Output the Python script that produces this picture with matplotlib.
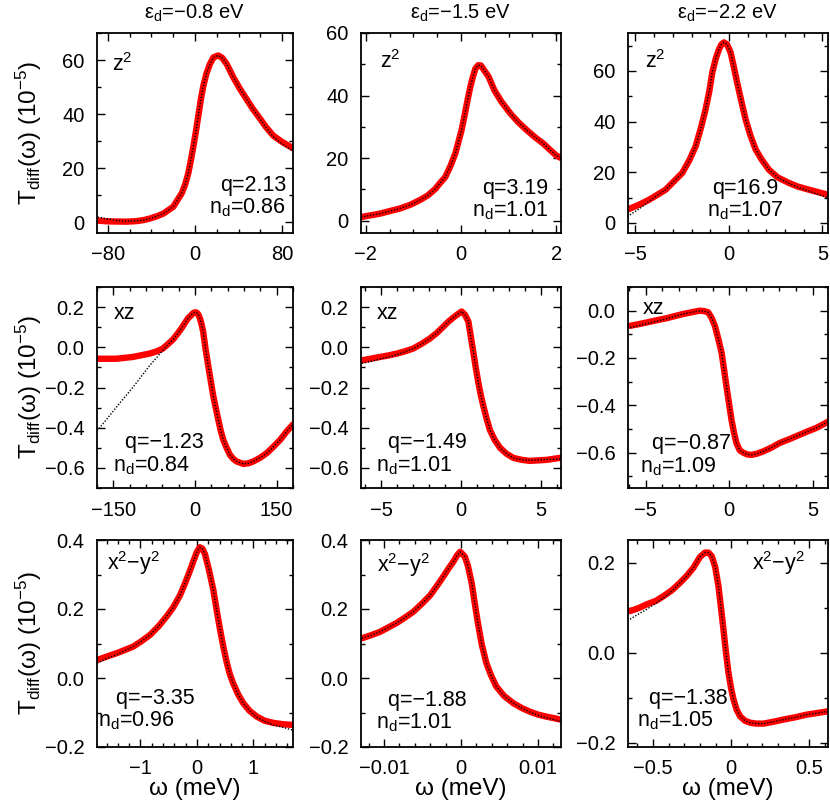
import matplotlib
matplotlib.use("Agg")
import matplotlib.pyplot as plt
from matplotlib.ticker import MultipleLocator

plt.rcParams["font.family"] = ["Liberation Sans", "DejaVu Sans"]
plt.rcParams["mathtext.default"] = "regular"
plt.rcParams["mathtext.fontset"] = "custom"
plt.rcParams["mathtext.rm"] = "Liberation Sans"

# ---- data: omega (meV), T_diff (1e-5); red = data, dotted = fit ----
# row 0: z^2
X00 = [-89.4, -80, -72, -62, -53.6, -47, -41, -35, -29, -20, -12.2, -9, -6.1, -4, -1.5, 1, 3.1, 5.4, 7.7, 10.5,
       13.8, 17, 21.4, 25, 29, 35.2, 41, 47.4, 53, 59.7, 65, 71.9, 80, 90.3]
RED00 = [0.6, 0.3, 0.25, 0.2, 0.4, 0.8, 1.4, 2.2, 3.2, 5.7, 10.7, 14, 18.2, 22.5, 28, 34, 39.5, 45.5, 50.5, 55,
         58.6, 61, 61.7, 60.8, 58.6, 53.6, 49.5, 45.5, 42, 38.3, 35.3, 32, 29.7, 27.3]
FIT00 = [1.9, 1.2, 0.6, 0.4, 0.5, 0.8, 1.4, 2.2, 3.2, 5.7, 10.7, 14, 18.2, 22.5, 28, 34, 39.5, 45.5, 50.5, 55,
         58.6, 61, 61.7, 60.8, 58.6, 53.6, 49.5, 45.5, 42, 38.2, 35.1, 31.6, 29.0, 26.2]

X01 = [-2.1, -1.7, -1.5, -1.29, -1.07, -0.88, -0.7, -0.54, -0.44, -0.33, -0.22, -0.12, 0.01, 0.08, 0.15, 0.20,
       0.25, 0.30, 0.36, 0.42, 0.49, 0.58, 0.70, 0.85, 1.04, 1.2, 1.39, 1.55, 1.73, 1.87, 2.0, 2.1]
RED01 = [1.1, 2.2, 3.0, 3.8, 5.0, 6.4, 8.0, 10.1, 12.0, 13.9, 17.5, 21.4, 28.8, 34, 39.5, 43, 46, 48.5, 49.7,
         49.6, 48, 46, 41.7, 38, 34.2, 31.5, 28.8, 26.7, 24.6, 22.6, 20.8, 20]
FIT01 = [1.1, 2.2, 3.0, 3.8, 5.0, 6.4, 8.0, 10.1, 12.0, 13.9, 17.5, 21.4, 28.8, 34, 39.5, 43, 46, 48.5, 49.7,
         49.6, 48, 46, 41.7, 38, 34.2, 31.5, 28.8, 26.7, 24.6, 22.6, 20.8, 20]

X02 = [-5.44, -4.8, -4.28, -3.85, -3.39, -3.0, -2.5, -2.1, -1.78, -1.5, -1.25, -1.05, -0.89, -0.7, -0.53, -0.4,
       -0.27, -0.1, 0.09, 0.25, 0.44, 0.65, 0.89, 1.15, 1.43, 1.75, 2.14, 2.6, 3.2, 3.7, 4.28, 5.3]
RED02 = [5.2, 7.2, 9.1, 11, 13.1, 16, 19.7, 25, 30.3, 37.5, 44.8, 52, 59.4, 65, 68.6, 70.5, 71.3, 70.5, 67.3, 62,
         55.4, 48.5, 40.9, 34.5, 29, 25, 21, 18, 15.8, 14.3, 13.1, 11.1]
FIT02 = [2.5, 5.5, 8.5, 10.8, 13.1, 16, 19.7, 25, 30.3, 37.5, 44.8, 52, 59.4, 65, 68.6, 70.5, 71.3, 70.5, 67.3, 62,
         55.4, 48.5, 40.9, 34.5, 29, 25, 21, 18, 15.6, 14.0, 12.6, 9.8]

# row 1: xz
X10 = [-180, -145, -114, -83, -70, -59, -50, -40, -32, -25, -18.8, -12.6, -7, -3.4, 0, 2.7, 5.8, 8.9, 12, 15,
       19.5, 24.2, 28.8, 33.4, 38, 42.7, 47.3, 51.9, 58, 64.2, 70.3, 76.5, 88.8, 98, 107, 119.5, 132, 144, 156.5, 168, 180]
RED10 = [-0.057, -0.057, -0.048, -0.031, -0.02, -0.006, 0.015, 0.04, 0.068, 0.094, 0.12, 0.145, 0.16, 0.17, 0.174,
         0.173, 0.165, 0.145, 0.115, 0.078, -0.01, -0.09, -0.165, -0.24, -0.30, -0.36, -0.415, -0.46, -0.50, -0.535,
         -0.555, -0.568, -0.58, -0.577, -0.568, -0.55, -0.526, -0.495, -0.46, -0.42, -0.384]
FIT10 = [-0.417, -0.30, -0.199, -0.09, -0.05, -0.015, 0.012, 0.04, 0.068, 0.094, 0.12, 0.145, 0.16, 0.17, 0.174,
         0.173, 0.165, 0.145, 0.115, 0.078, -0.01, -0.09, -0.165, -0.24, -0.30, -0.36, -0.415, -0.46, -0.50, -0.535,
         -0.555, -0.568, -0.58, -0.577, -0.568, -0.55, -0.526, -0.495, -0.46, -0.42, -0.384]

X11 = [-6.2, -5.6, -5.06, -4.5, -4.0, -3.5, -2.98, -2.45, -1.94, -1.5, -1.1, -0.78, -0.48, -0.2, 0.04, 0.25, 0.46,
       0.62, 0.77, 0.92, 1.08, 1.23, 1.39, 1.6, 1.8, 2.1, 2.44, 2.85, 3.27, 3.8, 4.3, 5.35, 6.2]
RED11 = [-0.065, -0.056, -0.048, -0.04, -0.031, -0.02, -0.006, 0.018, 0.044, 0.072, 0.103, 0.128, 0.148, 0.165,
         0.178, 0.162, 0.128, 0.05, -0.023, -0.10, -0.174, -0.235, -0.29, -0.355, -0.41, -0.46, -0.50, -0.53, -0.55,
         -0.56, -0.565, -0.56, -0.55]
FIT11 = [-0.08, -0.07, -0.058, -0.047, -0.036, -0.022, -0.006, 0.018, 0.044, 0.072, 0.103, 0.128, 0.148, 0.165,
         0.178, 0.162, 0.128, 0.05, -0.023, -0.10, -0.174, -0.235, -0.29, -0.355, -0.41, -0.46, -0.50, -0.53, -0.55,
         -0.56, -0.562, -0.558, -0.556]

X12 = [-5.92, -5.4, -4.93, -4.3, -3.74, -3.25, -2.75, -2.25, -1.76, -1.5, -1.26, -1.06, -0.86, -0.66, -0.46, -0.31,
       -0.17, -0.02, 0.13, 0.28, 0.43, 0.62, 0.82, 1.07, 1.32, 1.65, 2.0, 2.5, 3.0, 3.6, 4.2, 4.7, 5.2, 5.95]
RED12 = [-0.064, -0.057, -0.050, -0.04, -0.032, -0.023, -0.014, -0.007, 0.0, -0.002, -0.007, -0.03, -0.064, -0.118,
         -0.177, -0.25, -0.319, -0.39, -0.46, -0.515, -0.56, -0.59, -0.60, -0.608, -0.61, -0.605, -0.596, -0.58,
         -0.56, -0.543, -0.525, -0.51, -0.496, -0.468]
FIT12 = [-0.072, -0.063, -0.055, -0.044, -0.034, -0.024, -0.014, -0.007, 0.0, -0.002, -0.007, -0.03, -0.064, -0.118,
         -0.177, -0.25, -0.319, -0.39, -0.46, -0.515, -0.56, -0.59, -0.60, -0.608, -0.61, -0.605, -0.596, -0.58,
         -0.56, -0.543, -0.525, -0.51, -0.496, -0.468]

# row 2: x^2-y^2
X20 = [-1.77, -1.6, -1.42, -1.28, -1.13, -0.98, -0.83, -0.68, -0.54, -0.42, -0.30, -0.21, -0.12, -0.06, 0.0, 0.05,
       0.095, 0.14, 0.21, 0.29, 0.35, 0.41, 0.47, 0.53, 0.58, 0.64, 0.73, 0.82, 0.93, 1.06, 1.2, 1.35, 1.52, 1.7]
RED20 = [0.052, 0.062, 0.072, 0.081, 0.091, 0.107, 0.125, 0.15, 0.178, 0.205, 0.24, 0.275, 0.313, 0.34, 0.366,
         0.379, 0.375, 0.36, 0.315, 0.255, 0.195, 0.139, 0.088, 0.043, 0.012, -0.015, -0.048, -0.073, -0.095,
         -0.112, -0.124, -0.13, -0.134, -0.136]
FIT20 = [0.043, 0.056, 0.068, 0.079, 0.091, 0.107, 0.125, 0.15, 0.178, 0.205, 0.24, 0.275, 0.313, 0.34, 0.366,
         0.379, 0.375, 0.36, 0.315, 0.255, 0.195, 0.139, 0.088, 0.043, 0.012, -0.015, -0.048, -0.073, -0.095,
         -0.114, -0.126, -0.136, -0.143, -0.151]

X21 = [-0.0129, -0.0117, -0.0105, -0.0095, -0.0084, -0.0073, -0.0062, -0.0051, -0.0040, -0.0031, -0.0023, -0.0016,
       -0.0010, -0.0005, -0.0001, 0.0005, 0.0009, 0.0014, 0.0018, 0.0022, 0.0027, 0.0033, 0.0039, 0.0046, 0.0056,
       0.0068, 0.0079, 0.0090, 0.0100, 0.0111, 0.0120, 0.0128]
RED21 = [0.115, 0.124, 0.134, 0.146, 0.159, 0.175, 0.192, 0.215, 0.24, 0.268, 0.294, 0.318, 0.337, 0.356, 0.366,
         0.352, 0.325, 0.274, 0.215, 0.159, 0.097, 0.043, 0.008, -0.025, -0.052, -0.073, -0.087, -0.098, -0.106,
         -0.112, -0.116, -0.120]
FIT21 = [0.115, 0.124, 0.134, 0.146, 0.159, 0.175, 0.192, 0.215, 0.24, 0.268, 0.294, 0.318, 0.337, 0.356, 0.366,
         0.352, 0.325, 0.274, 0.215, 0.159, 0.097, 0.043, 0.008, -0.025, -0.052, -0.073, -0.087, -0.099, -0.108,
         -0.115, -0.120, -0.125]

X22 = [-0.647, -0.59, -0.54, -0.48, -0.434, -0.38, -0.327, -0.285, -0.242, -0.2, -0.167, -0.145, -0.124, -0.102,
       -0.081, -0.065, -0.049, -0.033, -0.017, 0.0, 0.015, 0.035, 0.058, 0.09, 0.122, 0.16, 0.207, 0.27, 0.335,
       0.41, 0.485, 0.56, 0.63]
RED22 = [0.092, 0.099, 0.107, 0.115, 0.125, 0.138, 0.155, 0.17, 0.188, 0.212, 0.222, 0.222, 0.214, 0.19, 0.147,
         0.1, 0.051, 0.0, -0.045, -0.08, -0.104, -0.127, -0.142, -0.152, -0.156, -0.158, -0.158, -0.154, -0.149,
         -0.144, -0.138, -0.134, -0.130]
FIT22 = [0.074, 0.086, 0.096, 0.11, 0.121, 0.136, 0.155, 0.17, 0.188, 0.212, 0.222, 0.222, 0.214, 0.19, 0.147,
         0.1, 0.051, 0.0, -0.045, -0.08, -0.104, -0.127, -0.142, -0.152, -0.156, -0.158, -0.158, -0.154, -0.149,
         -0.144, -0.138, -0.134, -0.130]

XS = [[X00, X01, X02], [X10, X11, X12], [X20, X21, X22]]
REDS = [[RED00, RED01, RED02], [RED10, RED11, RED12], [RED20, RED21, RED22]]
FITS = [[FIT00, FIT01, FIT02], [FIT10, FIT11, FIT12], [FIT20, FIT21, FIT22]]

TITLES = ["ε$_d$=−0.8 eV", "ε$_d$=−1.5 eV", "ε$_d$=−2.2 eV"]
ORBITALS = ["z$^2$", "xz", "x$^2$−y$^2$"]
Q = [["2.13", "3.19", "16.9"], ["−1.23", "−1.49", "−0.87"], ["−3.35", "−1.88", "−1.38"]]
ND = [["0.86", "1.01", "1.07"], ["0.84", "1.01", "1.09"], ["0.96", "1.01", "1.05"]]
Q_INDENT = [["", "", ""], ["  ", "  ", "  "], ["   ", "  ", "  "]]

XLIM = [[(-90, 90), (-2.1, 2.1), (-5.4, 5.3)],
        [(-180, 180), (-6.25, 6.25), (-6.05, 5.9)],
        [(-1.77, 1.7), (-0.013, 0.013), (-0.66, 0.62)]]
YLIM = [[(-4, 70), (-4, 60), (-4, 75)],
        [(-0.7, 0.3), (-0.7, 0.3), (-0.75, 0.1)],
        [(-0.2, 0.4), (-0.2, 0.4), (-0.21, 0.25)]]
XT = [[[-80, 0, 80], [-2, 0, 2], [-5, 0, 5]],
      [[-150, 0, 150], [-5, 0, 5], [-5, 0, 5]],
      [[-1, 0, 1], [-0.01, 0, 0.01], [-0.5, 0, 0.5]]]
XTL = [[["−80", "0", "80"], ["−2", "0", "2"], ["−5", "0", "5"]],
       [["−150", "0", "150"], ["−5", "0", "5"], ["−5", "0", "5"]],
       [["−1", "0", "1"], ["−0.01", "0", "0.01"], ["−0.5", "0", "0.5"]]]
XMINOR = [[20, 0.5, 1], [30, 1, 1], [0.2, 0.002, 0.1]]
YT = [[[0, 20, 40, 60]] * 3,
      [[-0.6, -0.4, -0.2, 0.0, 0.2], [-0.6, -0.4, -0.2, 0.0, 0.2], [-0.6, -0.4, -0.2, 0.0]],
      [[-0.2, 0.0, 0.2, 0.4], [-0.2, 0.0, 0.2, 0.4], [-0.2, 0.0, 0.2]]]
YMINOR = [[10, 10, 10], [0.1, 0.1, 0.1], [0.1, 0.1, 0.1]]

# label placement in axes coords (text baselines)
ORB_POS = [[(0.077, 0.81, "left"), (0.095, 0.823, "left"), (0.085, 0.823, "left")],
           [(0.083, 0.84, "left"), (0.078, 0.84, "left"), (0.075, 0.866, "left")],
           [(0.05, 0.855, "left"), (0.08, 0.847, "left"), (0.885, 0.855, "right")]]
# (x, last-line baseline y, ha) of the q / n_d block
QN_POS = [[(0.964, 0.098, "right"), (0.935, 0.082, "right"), (0.585, 0.082, "center")],
          [(0.08, 0.085, "left"), (0.075, 0.085, "left"), (0.06, 0.078, "left")],
          [(0.005, 0.098, "left"), (0.075, 0.09, "left"), (0.045, 0.098, "left")]]

W, H = 830, 807
COL_L = [97, 361, 628]
COL_W = [196, 200, 200]
ROW_T = [33, 287, 540]
ROW_H = [200, 201, 207]
FS_TICK = 14.5
FS_ANN = 15.5
FS_LAB = 17.5

fig = plt.figure(figsize=(W / 100, H / 100), dpi=100)
for r in range(3):
    for c in range(3):
        ax = fig.add_axes([COL_L[c] / W, 1 - (ROW_T[r] + ROW_H[r]) / H, COL_W[c] / W, ROW_H[r] / H])
        ax.plot(XS[r][c], REDS[r][c], color="#ff0000", lw=4.6, solid_joinstyle="round",
                solid_capstyle="round", zorder=2)
        ax.plot(XS[r][c], FITS[r][c], color="black", lw=1.0, ls=(0, (1, 1.2)), zorder=3)
        ax.set_xlim(*XLIM[r][c]); ax.set_ylim(*YLIM[r][c])
        ax.set_xticks(XT[r][c]); ax.set_xticklabels(XTL[r][c])
        ax.set_yticks(YT[r][c])
        if r == 0:
            ax.set_yticklabels([f"{v:d}" for v in YT[r][c]])
        else:
            ax.set_yticklabels([f"{v:.1f}".replace("-", "−") for v in YT[r][c]])
        ax.xaxis.set_minor_locator(MultipleLocator(XMINOR[r][c]))
        ax.yaxis.set_minor_locator(MultipleLocator(YMINOR[r][c]))
        ax.tick_params(which="both", direction="in", top=True, right=True, labelsize=FS_TICK, width=1.0)
        ax.tick_params(which="major", length=6, pad=9)
        ax.tick_params(which="minor", length=3)
        for s in ax.spines.values():
            s.set_linewidth(1.3)
        ox, oy, oha = ORB_POS[r][c]
        ax.text(ox, oy, ORBITALS[r], transform=ax.transAxes, ha=oha, va="baseline", fontsize=FS_ANN)
        qx, qy, qha = QN_POS[r][c]
        ax.text(qx, qy, Q_INDENT[r][c] + "q=" + Q[r][c] + "\nn$_d$=" + ND[r][c], transform=ax.transAxes,
                ha=qha, multialignment=qha, va="baseline", fontsize=FS_ANN, linespacing=1.05)
        if r == 0:
            ax.text(0.5, 1.10, TITLES[c], transform=ax.transAxes, ha="center", va="center", fontsize=14.5)
        if c == 0:
            ax.set_ylabel("T$_{diff}$(ω) (10$^{−5}$)", fontsize=FS_LAB, va="center")
            ax.yaxis.set_label_coords(-0.35, 0.5)
        if r == 2:
            ax.set_xlabel("ω (meV)", fontsize=FS_LAB, va="center")
            ax.xaxis.set_label_coords(0.5, -0.205)

fig.savefig("out.png", dpi=100)
